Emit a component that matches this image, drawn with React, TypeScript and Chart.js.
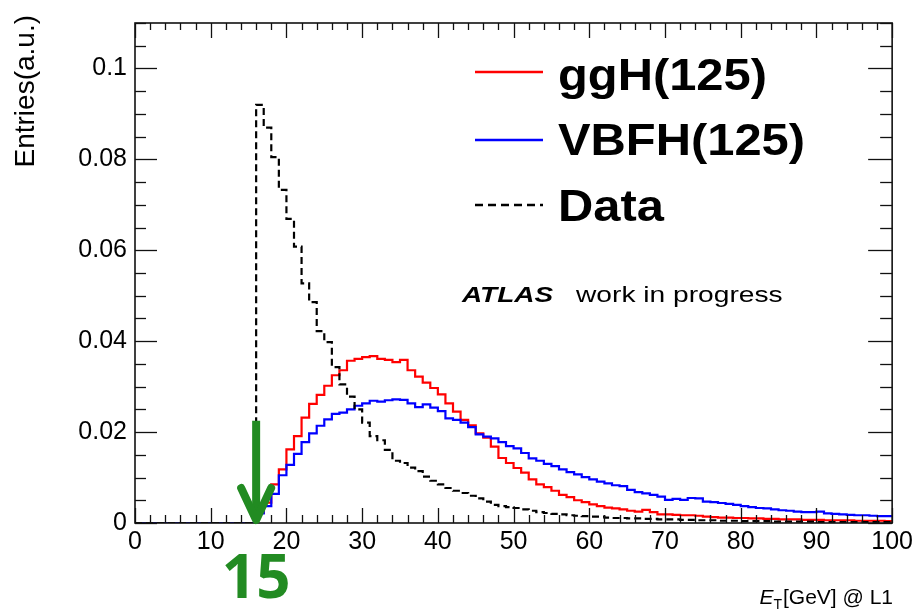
import React, { useEffect, useRef } from "react";
import { Chart, registerables } from "chart.js";

Chart.register(...registerables);

// ---- data (1 GeV bins, 0..100 GeV) ----
const seriesLabels = ["ggH(125)", "VBFH(125)", "Data"];
const seriesColors = ["#ff0000", "#0000ff", "#000000"];

const ggH = [
  0, 0, 0, 0, 0, 0, 0, 0, 0, 0,
  0, 0, 0, 0, 0, 0, 0.0022, 0.0045, 0.0085, 0.0118,
  0.0162, 0.0191, 0.0232, 0.0262, 0.0282, 0.0302, 0.0325, 0.0336, 0.0357, 0.0361,
  0.0365, 0.0367, 0.0361, 0.0359, 0.0354, 0.0359, 0.0336, 0.0322, 0.0309, 0.0297,
  0.0283, 0.0263, 0.0245, 0.0227, 0.0215, 0.0197, 0.0188, 0.0168, 0.0143, 0.0132,
  0.0121, 0.0111, 0.0096, 0.0085, 0.0079, 0.0071, 0.0062, 0.0057, 0.005, 0.0046,
  0.0041, 0.0037, 0.0034, 0.0032, 0.003, 0.0027, 0.0025, 0.0029, 0.0024, 0.0019,
  0.0019, 0.0018, 0.0017, 0.0017, 0.0016, 0.0014, 0.0013, 0.0012, 0.0012, 0.0011,
  0.0011, 0.001, 0.001, 0.0009, 0.0009, 0.0008, 0.0008, 0.0008, 0.0007, 0.0007,
  0.0007, 0.0006, 0.0006, 0.0006, 0.0006, 0.0005, 0.0005, 0.0005, 0.0005, 0.0004,
];

const vbfH = [
  0, 0, 0, 0, 0, 0, 0, 0, 0, 0,
  0, 0, 0, 0, 0, 0, 0.0021, 0.0037, 0.0064, 0.0105,
  0.0128, 0.0152, 0.0178, 0.0197, 0.0214, 0.0228, 0.024, 0.0243, 0.025, 0.0258,
  0.0263, 0.0269, 0.0267, 0.027, 0.0272, 0.0271, 0.0263, 0.0255, 0.0261, 0.0254,
  0.0246, 0.023, 0.0227, 0.0221, 0.0211, 0.0195, 0.019, 0.0186, 0.0178, 0.0169,
  0.0164, 0.0154, 0.0142, 0.0137, 0.013, 0.0125, 0.0118, 0.0112, 0.0107, 0.0101,
  0.0096, 0.0091, 0.0087, 0.0083, 0.0081, 0.0073, 0.0068, 0.0065, 0.0062, 0.0058,
  0.0051, 0.0053, 0.0051, 0.0055, 0.0054, 0.0047, 0.0046, 0.0044, 0.0042, 0.004,
  0.0037, 0.0035, 0.0033, 0.0032, 0.003, 0.0028, 0.0027, 0.0025, 0.0024, 0.0024,
  0.0025, 0.0021, 0.002, 0.0019, 0.0018, 0.0017, 0.0017, 0.0016, 0.0015, 0.0015,
];

const dataHist = [
  0, 0, 0, 0, 0, 0, 0, 0, 0, 0,
  0, 0, 0, 0, 0, 0, 0.092, 0.087, 0.0805, 0.0733,
  0.0669, 0.0608, 0.0527, 0.0486, 0.0422, 0.0398, 0.0343, 0.0305, 0.0278, 0.025,
  0.0221, 0.0191, 0.0182, 0.0161, 0.0137, 0.0132, 0.0122, 0.0114, 0.0102, 0.0093,
  0.0085, 0.0077, 0.0071, 0.0066, 0.006, 0.0054, 0.0047, 0.004, 0.0037, 0.0035,
  0.0033, 0.003, 0.0027, 0.0024, 0.0022, 0.002, 0.0019, 0.0017, 0.0016, 0.0015,
  0.0014, 0.0014, 0.0012, 0.0011, 0.0011, 0.001, 0.001, 0.0009, 0.0009, 0.0008,
  0.0008, 0.0008, 0.0007, 0.0007, 0.0006, 0.0006, 0.0006, 0.0005, 0.0005, 0.0005,
  0.0004, 0.0004, 0.0004, 0.0004, 0.0003, 0.0003, 0.0003, 0.0003, 0.0003, 0.0003,
  0.0002, 0.0002, 0.0002, 0.0002, 0.0002, 0.0002, 0.0002, 0.0002, 0.0002, 0.0002,
];

const X_MIN = 0;
const X_MAX = 100;
const BIN_WIDTH = 1;
const X_MAJOR = 10;
const X_MINOR = 2;
const Y_MIN = 0;
const Y_MAX = 0.11;
const Y_MAJOR = 0.02;
const Y_MINOR = 0.005;
const THRESHOLD = 16; // arrow position (GeV)
const THRESHOLD_LABEL = "15";
const ARROW_TOP = 0.0225;

const xTitleMain = "E";
const xTitleSub = "T";
const xTitleRest = "[GeV] @ L1";
const yTitle = "Entries(a.u.)";
const atlasBold = "ATLAS";
const atlasRest = "work in progress";

const FONT = "'Liberation Sans', Arial, Helvetica, sans-serif";

function toSteps(vals: number[]) {
  const pts = vals.map((v, i) => ({ x: X_MIN + i * BIN_WIDTH, y: v }));
  pts.push({ x: X_MIN + vals.length * BIN_WIDTH, y: vals[vals.length - 1] });
  return pts;
}

const decorPlugin = {
  id: "decor",
  afterDraw(chart: any) {
    const { ctx, chartArea: a, scales } = chart;
    const xs = scales.x;
    const ys = scales.y;
    ctx.save();

    const line = (x1: number, y1: number, x2: number, y2: number) => {
      ctx.beginPath();
      ctx.moveTo(x1, y1);
      ctx.lineTo(x2, y2);
      ctx.stroke();
    };

    // frame
    ctx.strokeStyle = "#111";
    ctx.lineWidth = 1.6;
    ctx.strokeRect(a.left, a.top, a.right - a.left, a.bottom - a.top);

    // x ticks (inside)
    ctx.lineWidth = 1.3;
    const nx = Math.round((X_MAX - X_MIN) / X_MINOR);
    for (let k = 0; k <= nx; k++) {
      const v = X_MIN + k * X_MINOR;
      const px = Math.round(xs.getPixelForValue(v)) + 0.5;
      const major = Math.abs(v / X_MAJOR - Math.round(v / X_MAJOR)) < 1e-6;
      line(px, a.bottom, px, a.bottom - (major ? 15 : 8));
      line(px, a.top, px, a.top + (major ? 15 : 7));
    }
    // y ticks (inside)
    const ny = Math.floor((Y_MAX - Y_MIN) / Y_MINOR + 1e-6);
    for (let k = 0; k <= ny; k++) {
      const v = Y_MIN + k * Y_MINOR;
      const py = Math.round(ys.getPixelForValue(v)) + 0.5;
      const major = k % Math.round(Y_MAJOR / Y_MINOR) === 0;
      line(a.left, py, a.left + (major ? 22 : 11), py);
      line(a.right, py, a.right - (major ? 24 : 12), py);
    }

    // legend
    const legY = [72, 140, 205];
    const legBase = [90, 155, 221];
    chart.data.datasets.forEach((ds: any, i: number) => {
      ctx.strokeStyle = ds.borderColor;
      ctx.lineWidth = 2.5;
      ctx.setLineDash(ds.borderDash && ds.borderDash.length ? [8, 5] : []);
      line(475, legY[i], 543, legY[i]);
      ctx.setLineDash([]);
      ctx.save();
      ctx.translate(558, legBase[i]);
      ctx.scale(1.11, 1);
      ctx.fillStyle = "#000";
      ctx.font = `bold 44px ${FONT}`;
      ctx.textAlign = "left";
      ctx.textBaseline = "alphabetic";
      ctx.fillText(ds.label, 0, 0);
      ctx.restore();
    });

    // ATLAS work in progress
    ctx.fillStyle = "#000";
    ctx.save();
    ctx.translate(462, 302);
    ctx.scale(1.27, 1);
    ctx.font = `italic bold 22px ${FONT}`;
    ctx.fillText(atlasBold, 0, 0);
    ctx.restore();
    ctx.save();
    ctx.translate(576, 302);
    ctx.scale(1.28, 1);
    ctx.font = `22px ${FONT}`;
    ctx.fillText(atlasRest, 0, 0);
    ctx.restore();

    // y title
    ctx.save();
    ctx.translate(34, 15);
    ctx.rotate(-Math.PI / 2);
    ctx.font = `28px ${FONT}`;
    ctx.textAlign = "right";
    ctx.fillText(yTitle, 0, 0);
    ctx.restore();

    // x title (right aligned)
    const base = 604;
    ctx.font = `21px ${FONT}`;
    const wRest = ctx.measureText(xTitleRest).width;
    ctx.font = `14px ${FONT}`;
    const wSub = ctx.measureText(xTitleSub).width;
    ctx.font = `italic 21px ${FONT}`;
    const wMain = ctx.measureText(xTitleMain).width;
    let xr = 893 - wRest - wSub - wMain - 1;
    ctx.textAlign = "left";
    ctx.fillText(xTitleMain, xr, base);
    xr += wMain;
    ctx.font = `14px ${FONT}`;
    ctx.fillText(xTitleSub, xr, base + 5);
    xr += wSub + 1;
    ctx.font = `21px ${FONT}`;
    ctx.fillText(xTitleRest, xr, base);

    // threshold arrow
    const green = "#228B22";
    const ax = xs.getPixelForValue(THRESHOLD);
    const top = ys.getPixelForValue(ARROW_TOP);
    const tip = ys.getPixelForValue(0) - 3;
    ctx.strokeStyle = green;
    ctx.lineWidth = 8;
    ctx.lineCap = "butt";
    line(ax, top, ax, tip - 2);
    ctx.lineCap = "round";
    ctx.lineJoin = "round";
    ctx.beginPath();
    ctx.moveTo(ax - 15, tip - 32);
    ctx.lineTo(ax, tip);
    ctx.lineTo(ax + 15, tip - 32);
    ctx.stroke();

    ctx.fillStyle = green;
    ctx.font = `bold 60px 'Open Sans', ${FONT}`;
    ctx.textAlign = "center";
    ctx.fillText(THRESHOLD_LABEL, ax, 598);

    ctx.restore();
  },
};

export default function App() {
  const ref = useRef<HTMLCanvasElement | null>(null);
  useEffect(() => {
    if (!ref.current) return;
    const series = [ggH, vbfH, dataHist];
    const chart = new Chart(ref.current, {
      type: "line",
      data: {
        datasets: series.map((vals, i) => ({
          label: seriesLabels[i],
          data: toSteps(vals),
          borderColor: seriesColors[i],
          backgroundColor: seriesColors[i],
          borderWidth: 2.2,
          borderDash: i === 2 ? [7, 4] : [],
          stepped: "before" as const,
          pointRadius: 0,
          fill: false,
          order: 3 - i,
        })),
      },
      options: {
        animation: false,
        responsive: false,
        layout: { padding: { left: 0, right: 22, top: 10, bottom: 0 } },
        plugins: { legend: { display: false }, tooltip: { enabled: false } },
        scales: {
          x: {
            type: "linear",
            min: X_MIN,
            max: X_MAX,
            grid: { display: false, drawTicks: false },
            border: { display: false },
            ticks: {
              stepSize: X_MAJOR,
              autoSkip: false,
              maxRotation: 0,
              padding: 4,
              color: "#000",
              font: { family: FONT, size: 25 },
            },
            afterFit: (s: any) => {
              s.height = 90;
            },
          },
          y: {
            type: "linear",
            min: Y_MIN,
            max: Y_MAX,
            grid: { display: false, drawTicks: false },
            border: { display: false },
            ticks: {
              stepSize: Y_MAJOR,
              includeBounds: false,
              padding: 8,
              color: "#000",
              font: { family: FONT, size: 25 },
              callback: (v: any) => String(Number(Number(v).toFixed(3))),
            },
            afterFit: (s: any) => {
              s.width = 135;
            },
          },
        },
      },
      plugins: [decorPlugin],
    });
    return () => chart.destroy();
  }, []);
  return (
    <div style={{ position: "absolute", left: 0, top: 0, width: 917, height: 613, background: "#fff" }}>
      <canvas ref={ref} width={917} height={613} />
    </div>
  );
}
